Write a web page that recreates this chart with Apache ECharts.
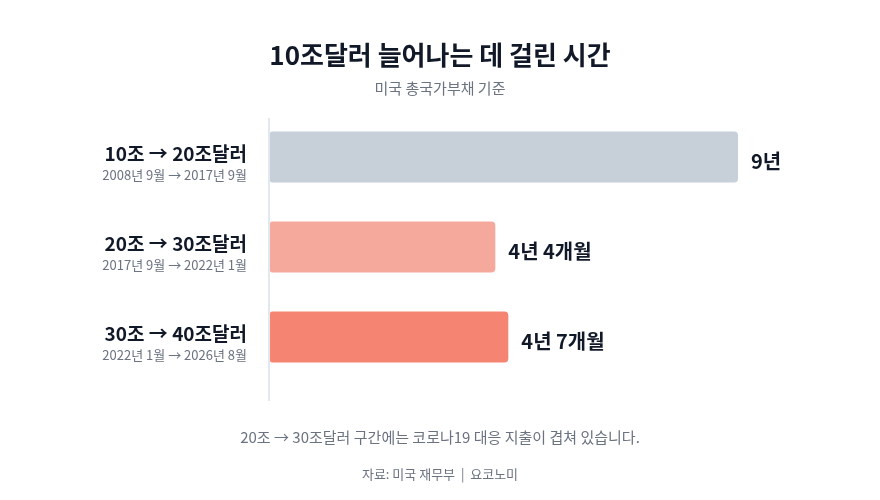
<!DOCTYPE html>
<html><head><meta charset="utf-8">
<script src="https://cdn.jsdelivr.net/npm/echarts@6/dist/echarts.min.js"></script>
<style>html,body{margin:0;padding:0;background:#fff}#c{width:880px;height:500px}</style>
</head><body><div id="c"></div>
<script>
const categories = ['10조 → 20조달러', '20조 → 30조달러', '30조 → 40조달러'];
const periods = ['2008년 9월 → 2017년 9월', '2017년 9월 → 2022년 1월', '2022년 1월 → 2026년 8월'];
const months = [108, 52, 55];
const valueLabels = ['9년', '4년 4개월', '4년 7개월'];
const barColors = ['#c7cfd9', '#f5a99d', '#f68473'];

const FONT = '"Noto Sans CJK KR", "Noto Sans", sans-serif';
const GRAY = '#6b7280';
const chart = echarts.init(document.getElementById('c'), null, {renderer: 'canvas'});
chart.setOption({
  backgroundColor: '#ffffff',
  textStyle: {fontFamily: FONT},
  title: [
    {text: '10조달러 늘어나는 데 걸린 시간', left: 'center', top: 37,
     textStyle: {fontFamily: FONT, fontSize: 26, fontWeight: 'bold', color: '#111827'}},
    {text: '미국 총국가부채 기준', left: 'center', top: 76,
     textStyle: {fontFamily: FONT, fontSize: 15, fontWeight: 'normal', color: GRAY}},
    {text: '20조 → 30조달러 구간에는 코로나19 대응 지출이 겹쳐 있습니다.', left: 'center', top: 425,
     textStyle: {fontFamily: FONT, fontSize: 15, fontWeight: 'normal', color: GRAY}},
    {text: '자료: 미국 재무부  |  요코노미', left: 'center', top: 463,
     textStyle: {fontFamily: FONT, fontSize: 13, fontWeight: 'normal', color: GRAY}}
  ],
  grid: {left: 270, right: 90, top: 112, height: 270, containLabel: false},
  xAxis: {type: 'value', min: 0, max: 120, show: false},
  yAxis: {
    type: 'category', data: categories, inverse: true,
    axisLine: {show: false}, axisTick: {show: false},
    axisLabel: {
      margin: 23, align: 'right', padding: [12, 0, 0, 0],
      formatter: (v, i) => '{a|' + v + '}\n{b|' + periods[i] + '}',
      rich: {
        a: {fontFamily: FONT, fontSize: 19, fontWeight: 'bold', color: '#111827', lineHeight: 24, align: 'right'},
        b: {fontFamily: FONT, fontSize: 13, color: GRAY, lineHeight: 18, align: 'right'}
      }
    }
  },
  graphic: [{type: 'line', shape: {x1: 269, y1: 118, x2: 269, y2: 401},
             style: {stroke: '#e2e8f0', lineWidth: 2}, z: 1}],
  series: [{
    type: 'bar', barWidth: 51,
    data: months.map((m, i) => ({value: m, itemStyle: {color: barColors[i]}})),
    itemStyle: {borderRadius: [2, 4, 4, 2]},
    label: {show: true, position: 'right', distance: 13, offset: [0, 4],
      formatter: p => valueLabels[p.dataIndex],
      fontFamily: FONT, fontSize: 20, fontWeight: 'bold', color: '#111827'},
    z: 2
  }]
});
</script></body></html>
